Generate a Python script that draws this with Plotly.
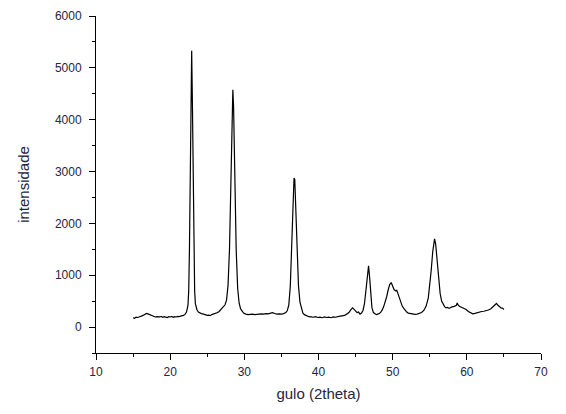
import plotly.graph_objects as go

# 2theta (deg) and intensity
two_theta = [
    15.0, 15.2, 15.4, 15.6, 15.8, 16.0, 16.2, 16.4, 16.6, 16.8, 17.0, 17.2, 17.4, 17.6, 17.8,
    18.0, 18.2, 18.4, 18.6, 18.8, 19.0, 19.2, 19.4, 19.6, 19.8, 20.0, 20.2, 20.4, 20.6, 20.8,
    21.0, 21.2, 21.4, 21.6, 21.8, 22.0, 22.2, 22.4, 22.5, 22.6, 22.7, 22.8, 22.9, 23.0, 23.1,
    23.2, 23.3, 23.4, 23.6, 23.8, 24.0, 24.2, 24.4, 24.6, 24.8, 25.0, 25.2, 25.4, 25.6, 25.8,
    26.0, 26.2, 26.4, 26.6, 26.8, 27.0, 27.2, 27.4, 27.6, 27.8, 28.0, 28.2, 28.35, 28.45, 28.55,
    28.7, 28.9, 29.1, 29.3, 29.5, 29.7, 29.9, 30.2, 30.5, 30.8, 31.1, 31.4, 31.7, 32.0, 32.3,
    32.6, 32.9, 33.2, 33.5, 33.8, 34.1, 34.4, 34.7, 35.0, 35.3, 35.6, 35.8, 36.0, 36.2, 36.4,
    36.55, 36.7, 36.8, 36.95, 37.1, 37.3, 37.5, 37.7, 37.9, 38.1, 38.4, 38.7, 39.0, 39.3, 39.6,
    39.9, 40.2, 40.5, 40.8, 41.1, 41.4, 41.7, 42.0, 42.3, 42.6, 42.9, 43.2, 43.5, 43.8, 44.1,
    44.4, 44.6, 44.8, 45.0, 45.2, 45.4, 45.6, 45.8, 46.0, 46.2, 46.4, 46.6, 46.75, 46.9, 47.05,
    47.2, 47.4, 47.6, 47.8, 48.0, 48.2, 48.4, 48.6, 48.8, 49.0, 49.2, 49.4, 49.6, 49.8, 50.0,
    50.2, 50.4, 50.55, 50.7, 50.9, 51.1, 51.3, 51.5, 51.7, 51.9, 52.1, 52.4, 52.7, 53.0, 53.3,
    53.6, 53.9, 54.2, 54.5, 54.8, 55.0, 55.2, 55.4, 55.55, 55.65, 55.8, 56.0, 56.2, 56.4, 56.6,
    56.8, 57.0, 57.2, 57.4, 57.6, 57.8, 58.0, 58.3, 58.6, 58.7, 58.8, 59.0, 59.3, 59.6, 59.9,
    60.2, 60.5, 60.8, 61.1, 61.4, 61.7, 62.0, 62.3, 62.6, 62.9, 63.2, 63.5, 63.8, 64.0, 64.2,
    64.4, 64.6, 64.8, 65.0,
]
intensity = [
    180, 170, 190, 185, 195, 200, 215, 230, 245, 262, 255, 240, 225, 210, 205,
    195, 200, 190, 195, 205, 190, 200, 195, 185, 200, 195, 205, 190, 200, 195,
    205, 200, 210, 215, 225, 245, 290, 420, 700, 1500, 3000, 4600, 5330, 4300, 2600,
    1300, 700, 450, 340, 290, 270, 260, 255, 240, 235, 225, 230, 220, 240, 250,
    255, 270, 280, 300, 330, 360, 390, 430, 520, 800, 1500, 3000, 4300, 4575, 4250,
    3000, 1500, 750, 460, 350, 300, 270, 250, 240, 245, 250, 240, 250, 245, 255,
    250, 260, 255, 265, 278, 262, 250, 255, 250, 260, 280, 320, 430, 800, 1600,
    2300, 2876, 2850, 2300, 1500, 800, 480, 340, 270, 240, 215, 200, 195, 190, 200,
    185, 190, 180, 195, 185, 190, 180, 195, 190, 200, 210, 215, 225, 250, 280,
    340, 370, 340, 300, 280, 290, 250, 270, 320, 450, 700, 1050, 1180, 950, 600,
    380, 280, 250, 240, 250, 260, 290, 330, 400, 480, 590, 720, 820, 860, 800,
    720, 700, 710, 650, 560, 470, 400, 360, 320, 290, 270, 260, 250, 245, 250,
    260, 280, 320, 400, 560, 800, 1100, 1450, 1650, 1700, 1600, 1250, 900, 650, 500,
    430, 395, 370, 380, 360, 380, 390, 400, 420, 465, 430, 400, 385, 370, 340,
    300, 270, 255, 265, 280, 290, 300, 305, 315, 330, 350, 390, 440, 455, 420,
    390, 370, 365, 340,
]

x_ticks = [10, 20, 30, 40, 50, 60, 70]
y_ticks = [0, 1000, 2000, 3000, 4000, 5000, 6000]

text_color = "#262640"
axis_style = dict(
    showline=True,
    linecolor="black",
    linewidth=1,
    ticks="outside",
    ticklen=6,
    tickcolor="black",
    showgrid=False,
    zeroline=False,
    automargin=False,
    tickfont=dict(size=12, color=text_color),
)

fig = go.Figure(
    go.Scatter(
        x=two_theta,
        y=intensity,
        mode="lines",
        line=dict(color="black", width=1.2),
    )
)
fig.update_layout(
    width=566,
    height=414,
    margin=dict(l=96, r=25, t=16, b=61),
    plot_bgcolor="white",
    paper_bgcolor="white",
    showlegend=False,
    font=dict(family="Liberation Sans, Arial, sans-serif", color=text_color),
    xaxis=dict(
        range=[10, 70],
        tickvals=x_ticks,
        ticklabelstandoff=2,
        minor=dict(ticks="outside", ticklen=3, dtick=5, tickcolor="black"),
        title=dict(text="gulo (2theta)", font=dict(size=15), standoff=10),
        **axis_style,
    ),
    yaxis=dict(
        range=[-500, 6000],
        tickvals=y_ticks,
        ticklabelstandoff=5,
        minor=dict(ticks="outside", ticklen=3, tick0=0, dtick=500, tickcolor="black"),
        title=dict(text="intensidade", font=dict(size=15), standoff=21),
        **axis_style,
    ),
)

fig.write_html(
    "out.html",
    config={"displayModeBar": False},
    post_script="document.body.style.margin='0';",
)
